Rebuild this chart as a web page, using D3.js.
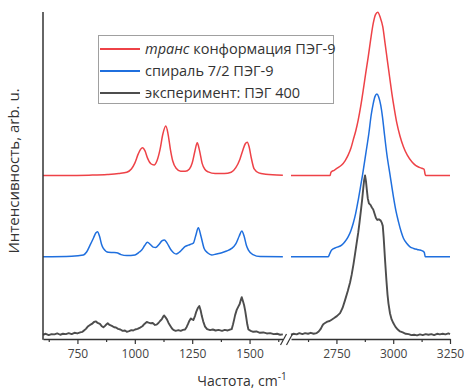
<!DOCTYPE html>
<html>
<head>
<meta charset="utf-8">
<script src="https://cdn.jsdelivr.net/npm/d3@7/dist/d3.min.js"></script>
<style>
  html, body { margin: 0; padding: 0; background: #fff; }
  svg { display: block; font-family: "Open Sans", "Noto Sans", sans-serif; }
</style>
</head>
<body>
<svg id="chart" width="465" height="390"></svg>
<script>
// Raman spectra of PEG: computed trans conformation and 7/2 helix of PEG-9, measured PEG 400.
// Each series: [wavenumber (cm^-1), intensity (arb. u., relative to its own baseline)]

const seriesNames = ["транс конформация ПЭГ-9", "спираль 7/2 ПЭГ-9", "эксперимент: ПЭГ 400"];
const seriesOffsets = [50, 25, 0];

const leftDomain = [600, 1650];
const rightDomain = [2550, 3250];
const leftTicks = [750, 1000, 1250, 1500];
const leftMinorTicks = [625, 875, 1125, 1375, 1625];
const rightTicks = [2750, 3000, 3250];
const rightMinorTicks = [2625, 2875, 3125];

const transLow = [
  [600,0],[700,0],[800,0.1],[880,0.3],[930,0.6],[965,1.0],[985,2.0],[1000,3.8],[1015,6.6],
  [1025,8.0],[1034,8.5],[1044,7.6],[1055,5.4],[1070,3.6],[1084,3.2],[1097,4.6],[1110,8.0],
  [1122,12.6],[1135,15.1],[1145,12.6],[1155,8.0],[1165,4.5],[1180,2.2],[1200,1.3],[1220,1.3],
  [1238,2.0],[1250,3.8],[1262,7.5],[1272,10.0],[1282,7.6],[1293,3.8],[1305,1.9],[1320,1.1],
  [1350,0.6],[1390,0.6],[1420,1.0],[1440,2.4],[1458,5.0],[1470,7.6],[1482,9.8],[1490,10.2],
  [1498,8.8],[1508,5.2],[1520,2.0],[1540,0.8],[1570,0.4],[1600,0.2],[1645,0.1]
];
const transHigh = [
  [2550,0],[2640,0],[2722,0],[2726,1.0],[2740,1.6],[2755,2.3],[2773,3.2],[2788,4.5],[2802,6.3],
  [2814,8.4],[2824,10.9],[2835,13.6],[2846,17.0],[2857,21.2],[2868,26.1],[2879,31.3],[2890,36.3],
  [2901,41.7],[2912,46.5],[2922,49.2],[2932,49.9],[2943,48.3],[2954,45.5],[2964,40.5],[2974,35.3],
  [2984,30.2],[2994,25.1],[3005,20.3],[3016,16.0],[3030,12.0],[3045,8.8],[3062,6.2],[3082,4.2],
  [3100,3.0],[3115,2.5],[3126,2.2],[3136,1.9],[3140,0.5],[3143,0],[3250,0]
];

const helixLow = [
  [600,0.15],[725,0.3],[776,0.7],[790,1.6],[805,3.7],[820,5.9],[830,7.4],[837,7.8],[846,6.5],
  [855,4.0],[863,2.7],[885,1.5],[905,1.45],[921,1.4],[940,0.8],[965,0.5],[1001,0.7],[1020,1.6],
  [1030,2.2],[1043,3.6],[1055,4.6],[1068,3.9],[1080,3.1],[1091,3.0],[1105,3.9],[1118,5.0],
  [1129,5.3],[1140,4.4],[1158,2.2],[1170,1.3],[1180,1.0],[1192,1.45],[1204,2.2],[1220,3.3],
  [1233,3.7],[1248,4.1],[1255,4.3],[1265,6.5],[1277,9.0],[1288,6.5],[1302,2.7],[1318,1.3],
  [1335,0.7],[1355,1.0],[1379,1.4],[1400,1.9],[1422,2.7],[1440,4.1],[1455,6.5],[1466,8.0],
  [1476,6.5],[1486,3.7],[1495,2.2],[1515,0.8],[1546,0.2],[1645,0.15]
];
const helixHigh = [
  [2550,0.15],[2640,0.15],[2714,0.15],[2720,1.0],[2729,2.2],[2750,3.0],[2773,3.7],[2788,4.8],
  [2802,6.3],[2814,8.2],[2824,10.4],[2835,13.5],[2846,17.5],[2856,21.5],[2865,25.2],[2880,32.0],
  [2893,38.0],[2903,43.5],[2912,47.0],[2920,49.2],[2928,49.9],[2936,49.0],[2945,46.5],[2953,42.8],
  [2960,38.5],[2972,31.5],[2986,25.2],[3001,18.5],[3012,14.2],[3023,10.9],[3034,8.0],[3045,5.8],
  [3060,4.2],[3074,3.2],[3090,2.7],[3105,2.4],[3118,2.2],[3130,1.9],[3137,1.4],[3141,0.15],[3250,0.15]
];

const peg400Low = [
  [600,1.3],[612,1.6],[625,1.2],[637,1.5],[650,1.4],[662,1.7],[675,1.3],[687,1.6],[700,1.5],
  [712,1.8],[725,1.5],[737,1.9],[750,1.7],[762,2.0],[772,2.2],[780,2.7],[787,3.1],[795,3.8],
  [805,4.3],[813,4.6],[822,5.2],[831,5.4],[838,4.9],[848,4.6],[855,4.0],[863,3.6],[870,4.0],
  [877,4.5],[882,4.8],[890,4.3],[900,4.0],[910,3.6],[918,3.5],[927,3.1],[937,2.9],[947,2.5],
  [957,2.6],[965,2.2],[975,2.4],[985,2.7],[993,2.6],[1001,2.9],[1012,3.1],[1023,3.5],[1033,3.9],
  [1042,4.6],[1052,5.2],[1060,5.0],[1070,4.8],[1078,4.9],[1088,4.3],[1095,4.4],[1103,4.9],
  [1110,5.5],[1118,6.1],[1124,6.9],[1128,7.2],[1134,6.6],[1140,6.0],[1147,4.9],[1155,4.0],
  [1162,3.2],[1168,2.8],[1178,2.5],[1190,2.7],[1200,2.5],[1210,2.8],[1219,2.9],[1226,3.7],
  [1232,4.6],[1238,5.6],[1244,6.3],[1250,6.0],[1255,5.8],[1262,7.0],[1268,8.4],[1274,9.4],
  [1281,10.1],[1287,8.7],[1292,7.0],[1298,5.4],[1306,3.8],[1315,3.0],[1328,2.7],[1340,2.9],
  [1352,2.6],[1365,2.8],[1380,2.5],[1392,2.8],[1405,2.6],[1415,2.9],[1422,3.0],[1428,4.5],
  [1433,6.0],[1437,7.3],[1444,8.9],[1451,9.9],[1457,10.7],[1462,12.0],[1466,12.8],[1471,11.6],
  [1476,10.4],[1481,8.6],[1485,6.8],[1490,4.5],[1495,2.9],[1505,2.5],[1516,2.2],[1530,2.3],
  [1545,1.9],[1560,2.0],[1575,1.7],[1590,1.8],[1605,1.5],[1620,1.6],[1633,1.3],[1645,1.4]
];
const peg400High = [
  [2550,1.3],[2562,1.6],[2575,1.4],[2587,1.8],[2600,1.5],[2612,1.8],[2625,1.6],[2637,1.9],
  [2650,1.6],[2663,1.8],[2672,2.3],[2680,3.0],[2686,3.8],[2692,4.5],[2700,4.9],[2710,5.3],
  [2720,5.5],[2729,5.9],[2740,6.4],[2752,7.0],[2766,7.9],[2777,9.5],[2788,11.9],[2800,14.7],
  [2810,17.3],[2817,19.6],[2825,22.8],[2832,26.0],[2839,29.3],[2846,32.5],[2852,35.8],[2858,39.4],
  [2863,42.5],[2868,46.0],[2872,48.6],[2876,50.0],[2880,48.3],[2884,45.5],[2888,43.0],[2893,41.5],
  [2900,41.0],[2906,40.2],[2912,39.6],[2918,38.3],[2924,37.0],[2930,36.4],[2937,36.6],[2945,36.2],
  [2950,35.5],[2954,34.6],[2958,31.0],[2964,24.2],[2970,18.0],[2975,13.5],[2979,10.9],[2986,7.8],
  [2993,6.0],[3001,4.8],[3010,3.7],[3020,2.9],[3030,2.3],[3042,2.0],[3055,1.6],[3068,1.5],
  [3080,1.2],[3092,1.3],[3105,1.1],[3118,1.4],[3130,1.2],[3143,1.5],[3155,1.3],[3168,1.5],
  [3180,1.2],[3193,1.6],[3205,1.4],[3218,1.6],[3230,1.4],[3243,1.7],[3250,1.5]
];

const colors = ["#ee4247", "#1f6fde", "#4d4d4d"];

const svg = d3.select("#chart");
const plotTop = 12, plotBottom = 339, plotLeft = 43;

const xLow = d3.scaleLinear().domain(leftDomain).range([plotLeft, 284]);
const xHigh = d3.scaleLinear().domain(rightDomain).range([291, 450]);
const y = d3.scaleLinear().domain([0, 100]).range([plotBottom, plotTop]);

const series = [
  { low: transLow, high: transHigh, curve: d3.curveMonotoneX, width: 1.5 },
  { low: helixLow, high: helixHigh, curve: d3.curveMonotoneX, width: 1.5 },
  { low: peg400Low, high: peg400High, curve: d3.curveLinear, width: 1.9 }
];

// Spectra, drawn bottom-up so the upper traces sit on top
series.slice().reverse().forEach((s, ri) => {
  const i = series.length - 1 - ri;
  const off = seriesOffsets[i];
  [[s.low, xLow], [s.high, xHigh]].forEach(([data, xs]) => {
    const line = d3.line()
      .x(d => xs(d[0]))
      .y(d => y(d[1] + off))
      .curve(s.curve);
    svg.append("path")
      .datum(data)
      .attr("fill", "none")
      .attr("stroke", colors[i])
      .attr("stroke-width", s.width)
      .attr("stroke-linejoin", "round")
      .attr("d", line);
  });
});

// Bottom axes (broken between the two ranges)
const axisColor = "#333";
function drawAxis(scale, major, minor) {
  const g = svg.append("g").attr("transform", `translate(0,${plotBottom})`);
  g.call(d3.axisBottom(scale).tickValues(major).tickSize(5).tickSizeOuter(0).tickPadding(5)
      .tickFormat(d3.format("d")));
  g.select(".domain").attr("stroke", axisColor).attr("stroke-width", 1.5);
  g.selectAll(".tick line").attr("stroke", axisColor).attr("stroke-width", 1.2);
  g.selectAll(".tick text").attr("fill", "#444").style("font-size", "12px")
    .style("font-family", "'Open Sans', sans-serif");
  const m = svg.append("g").attr("transform", `translate(0,${plotBottom})`);
  m.call(d3.axisBottom(scale).tickValues(minor).tickSize(3).tickFormat(""));
  m.select(".domain").remove();
  m.selectAll(".tick line").attr("stroke", axisColor).attr("stroke-width", 1.2);
}
drawAxis(xLow, leftTicks, leftMinorTicks);
drawAxis(xHigh, rightTicks, rightMinorTicks);

// Break marks
const gapMid = (xLow.range()[1] + xHigh.range()[0]) / 2;
svg.append("rect").attr("x", 283).attr("y", plotBottom - 2).attr("width", 8).attr("height", 4).attr("fill", "#fff");
[gapMid - 4, gapMid + 2].forEach(bx => {
  svg.append("line")
    .attr("x1", bx - 3).attr("y1", plotBottom + 6)
    .attr("x2", bx + 3).attr("y2", plotBottom - 5)
    .attr("stroke", axisColor).attr("stroke-width", 1.2);
});

// Left axis line
svg.append("line")
  .attr("x1", plotLeft).attr("x2", plotLeft)
  .attr("y1", plotTop).attr("y2", plotBottom + 0.75)
  .attr("stroke", axisColor).attr("stroke-width", 1.5);

// Axis titles
const xTitle = svg.append("text")
  .attr("x", 242).attr("y", 386)
  .attr("text-anchor", "middle")
  .attr("fill", "#333")
  .style("font-size", "14px");
xTitle.append("tspan").text("Частота, cm");
xTitle.append("tspan").attr("dy", -6).style("font-size", "10px").text("-1");

svg.append("text")
  .attr("transform", `translate(19,171) rotate(-90)`)
  .attr("text-anchor", "middle")
  .attr("fill", "#333")
  .style("font-size", "15px")
  .text("Интенсивность, arb. u.");

// Legend
const legend = svg.append("g");
legend.append("rect")
  .attr("x", 98.5).attr("y", 35.5).attr("width", 235).attr("height", 68)
  .attr("fill", "#fff").attr("stroke", "#a0a0a0").attr("stroke-width", 1);
const rowY = [49, 71, 93];
seriesNames.forEach((name, i) => {
  legend.append("line")
    .attr("x1", 100).attr("x2", 140)
    .attr("y1", rowY[i]).attr("y2", rowY[i])
    .attr("stroke", colors[i]).attr("stroke-width", 2);
  const t = legend.append("text")
    .attr("x", 145).attr("y", rowY[i] + 5)
    .attr("fill", "#333")
    .style("font-size", "14.5px");
  if (i === 0) {
    const parts = name.split(" ");
    t.append("tspan").style("font-style", "italic").text(parts[0]);
    t.append("tspan").text(" " + parts.slice(1).join(" "));
  } else {
    t.text(name);
  }
});
</script>
</body>
</html>
